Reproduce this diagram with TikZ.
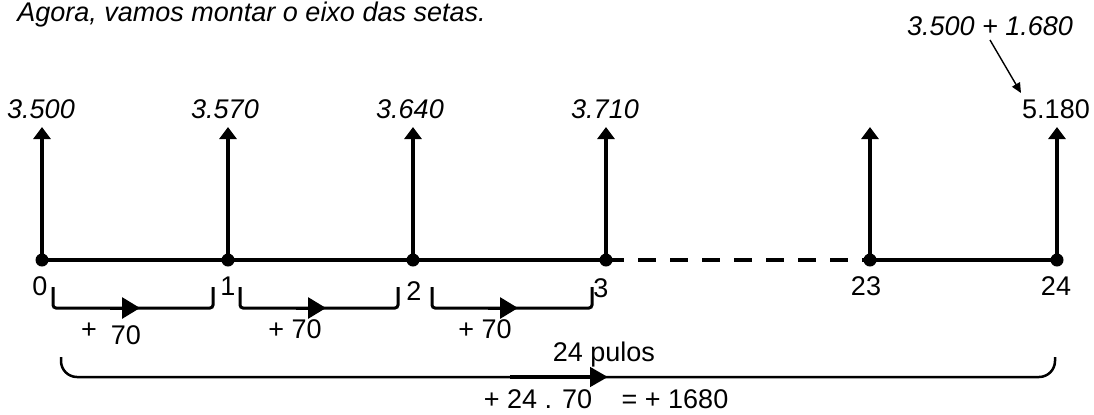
\documentclass[tikz,border=0pt]{standalone}
\usepackage{fontspec}
\setmainfont{Liberation Sans}
\usetikzlibrary{arrows.meta}
\begin{document}
\begin{tikzpicture}[x=0.5pt,y=-0.5pt,
  txt/.style={inner sep=0pt, font=\fontsize{13.5}{16}\selectfont},
  itxt/.style={inner sep=0pt, font=\fontsize{13.5}{16}\selectfont\itshape},
  axisline/.style={line width=2pt},
  vec/.style={line width=2pt, -{Triangle[width=8.5pt,length=6pt]}},
  jump/.style={line width=1.5pt, rounded corners=1.5pt},
  jtip/.style={line width=1.5pt, -{Triangle[width=10.5pt,length=9pt]}},
  bigjump/.style={line width=1.25pt, rounded corners=8pt},
  bigtip/.style={line width=2.25pt, -{Triangle[width=9.5pt,length=9pt]}},
  pin/.style={line width=0.7pt, -{Triangle[width=4.5pt,length=5pt]}},
  dot/.style={circle, fill=black, inner sep=0pt, minimum size=6.5pt}
]
\useasboundingbox (0,0) rectangle (1094,414);
\clip (0,0) rectangle (1094,414);

% title
\node[itxt, anchor=base west] (title) at (17,21) {Agora, vamos montar o eixo das setas.};

% points on the axis
\coordinate (p0) at (42,260);
\coordinate (p1) at (228,260);
\coordinate (p2) at (413,260);
\coordinate (p3) at (606,260);
\coordinate (p23) at (870,260);
\coordinate (p24) at (1057,260);

% arrow tips
\coordinate (t0) at (42,127);
\coordinate (t1) at (228,127);
\coordinate (t2) at (413,127);
\coordinate (t3) at (606,127);
\coordinate (t23) at (870,127);
\coordinate (t24) at (1057,127);

% vertical arrows
\foreach \n in {0,1,2,3,23,24} \draw[vec] (p\n) -- (t\n);

% axis
\draw[axisline] (p0) -- (p3);
\draw[axisline, dash pattern=on 9pt off 7pt] (p3) -- (p23);
\draw[axisline] (p23) -- (p24);
\foreach \n in {0,1,2,3,23,24} \node[dot] (d\n) at (p\n) {};

% values above
\node[itxt, anchor=base] (v0) at (41,118) {3.500};
\node[itxt, anchor=base] (v1) at (225,118) {3.570};
\node[itxt, anchor=base] (v2) at (410,118) {3.640};
\node[itxt, anchor=base] (v3) at (605,118) {3.710};
\node[txt, anchor=base] (v24) at (1056,118) {5.180};

% sum and pointer
\node[itxt, anchor=base] (sum) at (990,35) {3.500 + 1.680};
\coordinate (s1) at (990,40);
\coordinate (s2) at (1021,93);
\draw[pin] (s1) -- (s2);

% point labels
\node[txt, anchor=base] (l0) at (40,295) {0};
\node[txt, anchor=base] (l1) at (228,295) {1};
\node[txt, anchor=base] (l2) at (414,300) {2};
\node[txt, anchor=base] (l3) at (601,297) {3};
\node[txt, anchor=base] (l23) at (866,295) {23};
\node[txt, anchor=base] (l24) at (1056,295) {24};

% small jumps
\coordinate (a1) at (53,287);  \coordinate (b1) at (213,287);
\coordinate (a2) at (240,287); \coordinate (b2) at (398,287);
\coordinate (a3) at (432,287); \coordinate (b3) at (592,287);
\draw[jump] (a1) -- (53,308) -- (213,308) -- (b1);
\draw[jump] (a2) -- (240,308) -- (398,308) -- (b2);
\draw[jump] (a3) -- (432,308) -- (592,308) -- (b3);
\coordinate (k1) at (110,308); \coordinate (m1) at (140,308);
\coordinate (k2) at (296,308); \coordinate (m2) at (326,308);
\coordinate (k3) at (488,308); \coordinate (m3) at (518,308);
\draw[jtip] (k1) -- (m1);
\draw[jtip] (k2) -- (m2);
\draw[jtip] (k3) -- (m3);

% +70 labels
\node[txt, anchor=base] (plus1) at (89,338) {+};
\node[txt, anchor=base] (n1) at (126,344) {70};
\node[txt, anchor=base] (j2) at (295,338) {+ 70};
\node[txt, anchor=base] (j3) at (485,338) {+ 70};

% big jump
\coordinate (A) at (61,357);
\coordinate (B) at (1055,357);
\draw[bigjump] (A) -- (61,377) -- (1055,377) -- (B);
\coordinate (K) at (510,377);
\coordinate (M) at (608,377);
\draw[bigtip] (K) -- (M);
\node[txt, anchor=base] (pulos) at (604,361) {24 pulos};
\node[txt, anchor=base] (prod) at (538,408) {+ 24 . 70};
\node[txt, anchor=base] (res) at (675,408) {= + 1680};
\end{tikzpicture}
\end{document}
